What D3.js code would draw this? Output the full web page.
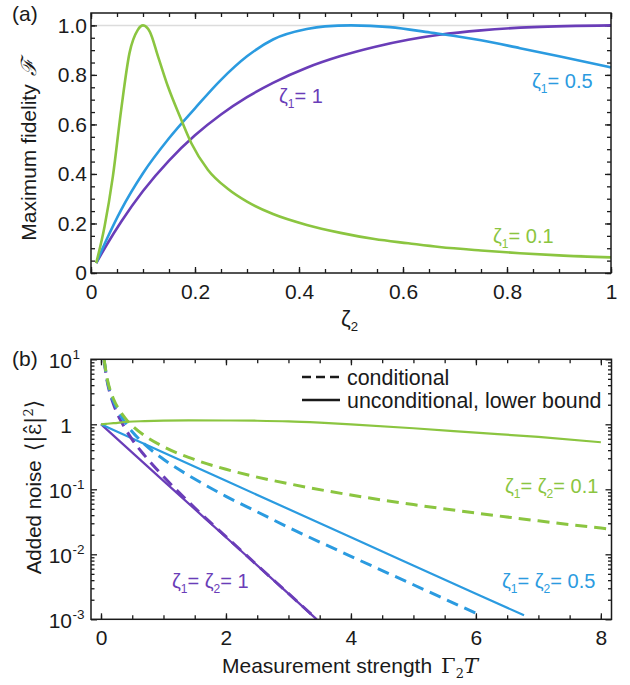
<!DOCTYPE html>
<html><head><meta charset="utf-8">
<script src="https://cdn.jsdelivr.net/npm/d3@7"></script>
<style>
body{margin:0;background:#fff;}
svg{display:block;font-family:"Liberation Sans",Arial,Helvetica,sans-serif;}
</style></head><body>
<svg id="chart" width="630" height="685"></svg>
<script>
// ---------- Panel (a): maximum fidelity vs zeta2 ----------
const zeta2Green = [0.01, 0.026, 0.042, 0.058, 0.074, 0.09, 0.1, 0.113, 0.129, 0.148, 0.171, 0.193, 0.225, 0.263, 0.3, 0.35, 0.415, 0.48, 0.545, 0.61, 0.67, 0.75, 0.825, 0.9, 1.0];
const fidGreen   = [0.04, 0.187, 0.389, 0.659, 0.888, 0.982, 1.0, 0.975, 0.874, 0.753, 0.632, 0.524, 0.416, 0.340, 0.288, 0.238, 0.194, 0.162, 0.137, 0.120, 0.105, 0.091, 0.080, 0.071, 0.063];
const zeta2Blue  = [0.01, 0.03, 0.058, 0.1, 0.15, 0.2, 0.25, 0.3, 0.35, 0.415, 0.45, 0.5, 0.575, 0.652, 0.75, 0.825, 0.9, 1.0];
const fidBlue    = [0.04, 0.135, 0.255, 0.403, 0.544, 0.665, 0.78, 0.875, 0.943, 0.985, 0.996, 1.0, 0.993, 0.971, 0.940, 0.908, 0.875, 0.830];
const zeta2Purple = [0.01, 0.03, 0.058, 0.1, 0.15, 0.2, 0.25, 0.3, 0.35, 0.415, 0.48, 0.545, 0.61, 0.67, 0.75, 0.85, 1.0];
const fidPurple   = [0.04, 0.113, 0.207, 0.331, 0.454, 0.556, 0.64, 0.71, 0.768, 0.829, 0.876, 0.913, 0.942, 0.962, 0.980, 0.993, 1.0];

const fidXTicks = [0, 0.2, 0.4, 0.6, 0.8, 1];
const fidYTicks = [0, 0.2, 0.4, 0.6, 0.8, 1.0];

// ---------- Panel (b): added noise vs measurement strength ----------
const tPurpleCond = [0.05, 0.1, 0.15, 0.2, 0.3, 0.4, 0.5, 0.7, 1.0, 1.5, 2.0, 2.5, 3.0, 3.45];
const vPurpleCond = [9.5, 4.5, 2.86, 2.03, 1.22, 0.82, 0.58, 0.33, 0.157, 0.052, 0.0187, 0.0068, 0.0025, 0.00101];
const tPurpleUncond = [0, 1, 2, 3, 3.45];
const vPurpleUncond = [1, 0.135, 0.0183, 0.00248, 0.001];

const tBlueCond = [0.05, 0.1, 0.15, 0.2, 0.3, 0.4, 0.5, 0.7, 1.0, 1.5, 2.0, 2.5, 3.0, 4.0, 5.0, 6.0];
const vBlueCond = [9.75, 4.75, 3.09, 2.26, 1.43, 1.02, 0.77, 0.49, 0.29, 0.144, 0.078, 0.045, 0.026, 0.0093, 0.0034, 0.00124];
const tBlueUncond = [0, 2, 4, 6, 6.77];
const vBlueUncond = [1, 0.135, 0.0183, 0.00248, 0.00115];

const tGreenCond = [0.05, 0.1, 0.15, 0.2, 0.3, 0.4, 0.5, 0.7, 1.0, 1.5, 2.0, 2.5, 3.0, 4.0, 5.0, 6.0, 7.0, 8.0, 8.17];
const vGreenCond = [9.95, 4.95, 3.28, 2.45, 1.62, 1.2, 0.95, 0.666, 0.452, 0.286, 0.203, 0.154, 0.122, 0.0816, 0.0582, 0.0431, 0.0327, 0.0253, 0.0243];
const tGreenUncond = [0, 0.1, 0.2, 0.43, 0.7, 1.0, 1.4, 2.0, 2.5, 3.0, 3.5, 4.0, 5.0, 6.0, 7.0, 8.0];
const vGreenUncond = [1, 1.02, 1.04, 1.095, 1.12, 1.14, 1.15, 1.145, 1.135, 1.11, 1.06, 1.0, 0.87, 0.745, 0.64, 0.53];

const noiseXTicks = [0, 2, 4, 6, 8];
const noiseYTicks = [1e-3, 1e-2, 1e-1, 1, 10];
const noiseYLabels = [["10", "-3"], ["10", "-2"], ["10", "-1"], ["1", ""], ["10", "1"]];

const purple = "#6a3db8", blue = "#2b9be0", green = "#8bc540", ink = "#1a1a1a";
const FS = 21;

const svg = d3.select("#chart");
const zip = (xs, ys) => xs.map((x, i) => [x, ys[i]]);

// text with subscripts: parts are strings or {sub: "..."}
function richText(parent, x, y, parts, color, size) {
  const t = parent.append("text").attr("x", x).attr("y", y)
    .attr("fill", color).attr("font-size", size);
  let shifted = false;
  parts.forEach(p => {
    if (typeof p === "string") {
      t.append("tspan").attr("dy", shifted ? -5 : 0).text(p);
      shifted = false;
    } else {
      t.append("tspan").attr("dy", 5).attr("font-size", size * 0.6).text(p.sub);
      shifted = true;
    }
  });
  return t;
}

function frame(g, x0, x1, y0, y1) {
  g.append("rect").attr("x", x0).attr("y", y0).attr("width", x1 - x0).attr("height", y1 - y0)
    .attr("fill", "none").attr("stroke", ink).attr("stroke-width", 1.5);
}

function styleAxis(g) {
  g.select(".domain").remove();
  g.selectAll(".tick line").attr("stroke", ink).attr("stroke-width", 1.3);
  g.selectAll(".tick text").attr("fill", ink).attr("font-size", FS)
    .attr("font-family", "'Liberation Sans',Arial,sans-serif");
}

// ================= Panel (a) =================
const xA = d3.scaleLinear().domain([0, 1]).range([91, 611]);
const yA = d3.scaleLinear().domain([0, 1.05]).range([273, 13]);
const gA = svg.append("g");

gA.append("line").attr("x1", xA(0)).attr("x2", xA(1)).attr("y1", yA(1)).attr("y2", yA(1))
  .attr("stroke", "#dcdcdc").attr("stroke-width", 1.5);

const minorA = d3.range(0, 1.0001, 0.05).map(d => +d.toFixed(2));
const fmtA = d => (d === 0 || d === 1) ? String(d) : d.toFixed(1);
const fmtAY = d => d === 0 ? "0" : d.toFixed(1);

gA.append("g").attr("transform", "translate(0,273)")
  .call(d3.axisBottom(xA).tickValues(minorA).tickSizeInner(-4).tickSizeOuter(0).tickFormat("")).call(styleAxis);
gA.append("g").attr("transform", "translate(0,273)")
  .call(d3.axisBottom(xA).tickValues(fidXTicks).tickSizeInner(-6).tickSizeOuter(0).tickPadding(11).tickFormat(fmtA)).call(styleAxis);
gA.append("g").attr("transform", "translate(0,13)")
  .call(d3.axisTop(xA).tickValues(minorA).tickSizeInner(-4).tickSizeOuter(0).tickFormat("")).call(styleAxis);
gA.append("g").attr("transform", "translate(0,13)")
  .call(d3.axisTop(xA).tickValues(fidXTicks).tickSizeInner(-6).tickSizeOuter(0).tickFormat("")).call(styleAxis);
gA.append("g").attr("transform", "translate(91,0)")
  .call(d3.axisLeft(yA).tickValues(minorA).tickSizeInner(-4).tickSizeOuter(0).tickFormat("")).call(styleAxis);
gA.append("g").attr("transform", "translate(91,0)")
  .call(d3.axisLeft(yA).tickValues(fidYTicks).tickSizeInner(-6).tickSizeOuter(0).tickPadding(4).tickFormat(fmtAY)).call(styleAxis);
gA.append("g").attr("transform", "translate(611,0)")
  .call(d3.axisRight(yA).tickValues(minorA).tickSizeInner(-4).tickSizeOuter(0).tickFormat("")).call(styleAxis);
gA.append("g").attr("transform", "translate(611,0)")
  .call(d3.axisRight(yA).tickValues(fidYTicks).tickSizeInner(-6).tickSizeOuter(0).tickFormat("")).call(styleAxis);

const lineA = d3.line().x(d => xA(d[0])).y(d => yA(d[1])).curve(d3.curveMonotoneX);
[[zeta2Purple, fidPurple, purple], [zeta2Blue, fidBlue, blue], [zeta2Green, fidGreen, green]].forEach(([xs, ys, c]) => {
  gA.append("path").attr("d", lineA(zip(xs, ys))).attr("fill", "none")
    .attr("stroke", c).attr("stroke-width", 2.6).attr("stroke-linejoin", "round");
});
frame(gA, 91, 611, 13, 273);

richText(gA, 279, 103, ["ζ", {sub: "1"}, "= 1"], purple, 20);
richText(gA, 532, 88, ["ζ", {sub: "1"}, "= 0.5"], blue, 20);
richText(gA, 493, 243, ["ζ", {sub: "1"}, "= 0.1"], green, 20);

gA.append("text").attr("x", 12).attr("y", 21).attr("font-size", FS).attr("fill", ink).text("(a)");
richText(gA, 341, 326, ["ζ", {sub: "2"}], ink, 22);

const yTitleA = gA.append("text").attr("transform", "translate(36,150) rotate(-90)")
  .attr("text-anchor", "middle").attr("font-size", FS).attr("fill", ink);
yTitleA.append("tspan").text("Maximum fidelity");
yTitleA.append("tspan").attr("dx", 8).attr("font-family", "'DejaVu Serif',serif").attr("font-style", "italic").text("ℱ");

// ================= Panel (b) =================
const xB = d3.scaleLinear().domain([-0.16, 8.17]).range([91, 611.5]);
const yB = d3.scaleLog().domain([1e-3, 10]).range([619.3, 359.3]);
const gB = svg.append("g");

const minorBx = d3.range(0, 8.01, 0.5);
const minorBy = [];
[1e-3, 1e-2, 1e-1, 1].forEach(dec => { for (let k = 2; k <= 9; k++) minorBy.push(dec * k); });

gB.append("g").attr("transform", "translate(0,619.3)")
  .call(d3.axisBottom(xB).tickValues(minorBx).tickSizeInner(-4).tickSizeOuter(0).tickFormat("")).call(styleAxis);
gB.append("g").attr("transform", "translate(0,619.3)")
  .call(d3.axisBottom(xB).tickValues(noiseXTicks).tickSizeInner(-6).tickSizeOuter(0).tickPadding(11).tickFormat(d3.format("d"))).call(styleAxis);
gB.append("g").attr("transform", "translate(0,359.3)")
  .call(d3.axisTop(xB).tickValues(minorBx).tickSizeInner(-4).tickSizeOuter(0).tickFormat("")).call(styleAxis);
gB.append("g").attr("transform", "translate(0,359.3)")
  .call(d3.axisTop(xB).tickValues(noiseXTicks).tickSizeInner(-6).tickSizeOuter(0).tickFormat("")).call(styleAxis);
gB.append("g").attr("transform", "translate(91,0)")
  .call(d3.axisLeft(yB).tickValues(minorBy).tickSizeInner(-3.5).tickSizeOuter(0).tickFormat(() => "")).call(styleAxis);
const yAxB = gB.append("g").attr("transform", "translate(91,0)")
  .call(d3.axisLeft(yB).tickValues(noiseYTicks).tickSizeInner(-6).tickSizeOuter(0).tickFormat(() => "")).call(styleAxis);
gB.append("g").attr("transform", "translate(611.5,0)")
  .call(d3.axisRight(yB).tickValues(minorBy).tickSizeInner(-3.5).tickSizeOuter(0).tickFormat(() => "")).call(styleAxis);
gB.append("g").attr("transform", "translate(611.5,0)")
  .call(d3.axisRight(yB).tickValues(noiseYTicks).tickSizeInner(-6).tickSizeOuter(0).tickFormat(() => "")).call(styleAxis);

// power-of-ten tick labels with superscripts
yAxB.selectAll(".tick").each(function(d) {
  const [base, sup] = noiseYLabels[noiseYTicks.indexOf(d)];
  const tk = d3.select(this);
  tk.append("text").attr("x", -19).attr("y", 8).attr("text-anchor", "end")
    .attr("font-size", FS).attr("fill", ink).text(base);
  if (sup) tk.append("text").attr("x", -18.5).attr("y", -0.5).attr("text-anchor", "start")
    .attr("font-size", 13.5).attr("fill", ink).text(sup);
});

gB.append("clipPath").attr("id", "clipB").append("rect")
  .attr("x", 91).attr("y", 359.3).attr("width", 520.5).attr("height", 260);
const plotB = gB.append("g").attr("clip-path", "url(#clipB)");
const lineB = d3.line().x(d => xB(d[0])).y(d => yB(d[1])).curve(d3.curveMonotoneX);

const seriesB = [
  [tPurpleUncond, vPurpleUncond, purple, false],
  [tBlueUncond, vBlueUncond, blue, false],
  [tPurpleCond, vPurpleCond, purple, true],
  [tBlueCond, vBlueCond, blue, true],
  [tGreenCond, vGreenCond, green, true],
  [tGreenUncond, vGreenUncond, green, false]
];
seriesB.forEach(([ts, vs, c, dashed]) => {
  plotB.append("path").attr("d", lineB(zip(ts, vs))).attr("fill", "none")
    .attr("stroke", c).attr("stroke-width", dashed ? 3 : 2.2)
    .attr("stroke-dasharray", dashed ? "12,7" : null);
});
frame(gB, 91, 611.5, 359.3, 619.3);

// legend
gB.append("line").attr("x1", 302).attr("x2", 340).attr("y1", 377).attr("y2", 377)
  .attr("stroke", ink).attr("stroke-width", 2.5).attr("stroke-dasharray", "9,5");
gB.append("line").attr("x1", 302).attr("x2", 340).attr("y1", 400).attr("y2", 400)
  .attr("stroke", ink).attr("stroke-width", 2.5);
gB.append("text").attr("x", 347).attr("y", 384.5).attr("font-size", 21.4).attr("fill", ink).text("conditional");
gB.append("text").attr("x", 347).attr("y", 407.5).attr("font-size", 21.4).attr("fill", ink).text("unconditional, lower bound");

richText(gB, 172, 588, ["ζ", {sub: "1"}, "= ", "ζ", {sub: "2"}, "= 1"], purple, 20);
richText(gB, 502, 588, ["ζ", {sub: "1"}, "= ", "ζ", {sub: "2"}, "= 0.5"], blue, 20);
richText(gB, 505, 493, ["ζ", {sub: "1"}, "= ", "ζ", {sub: "2"}, "= 0.1"], green, 20);

gB.append("text").attr("x", 12).attr("y", 366).attr("font-size", FS).attr("fill", ink).text("(b)");

const xTitleB = gB.append("text").attr("x", 350).attr("y", 673).attr("text-anchor", "middle")
  .attr("font-size", FS).attr("fill", ink);
xTitleB.append("tspan").text("Measurement strength");
xTitleB.append("tspan").attr("dx", 9).attr("font-family", "'DejaVu Serif',serif").text("Γ");
xTitleB.append("tspan").attr("dy", 5).attr("font-size", 13).attr("font-family", "'DejaVu Serif',serif").text("2");
xTitleB.append("tspan").attr("dy", -5).attr("font-family", "'DejaVu Serif',serif").attr("font-style", "italic").text("T");

const yTitleB = gB.append("text").attr("transform", "translate(41,487) rotate(-90)")
  .attr("text-anchor", "middle").attr("font-size", 20.5).attr("fill", ink);
yTitleB.append("tspan").text("Added noise");
yTitleB.append("tspan").attr("dx", 9).attr("font-family", "'DejaVu Serif',serif").attr("font-size", 22).text("⟨|ε̂|");
yTitleB.append("tspan").attr("dy", -8).attr("font-size", 13).attr("font-family", "'DejaVu Serif',serif").text("2");
yTitleB.append("tspan").attr("dy", 8).attr("font-family", "'DejaVu Serif',serif").attr("font-size", 22).text("⟩");
</script>
</body></html>
